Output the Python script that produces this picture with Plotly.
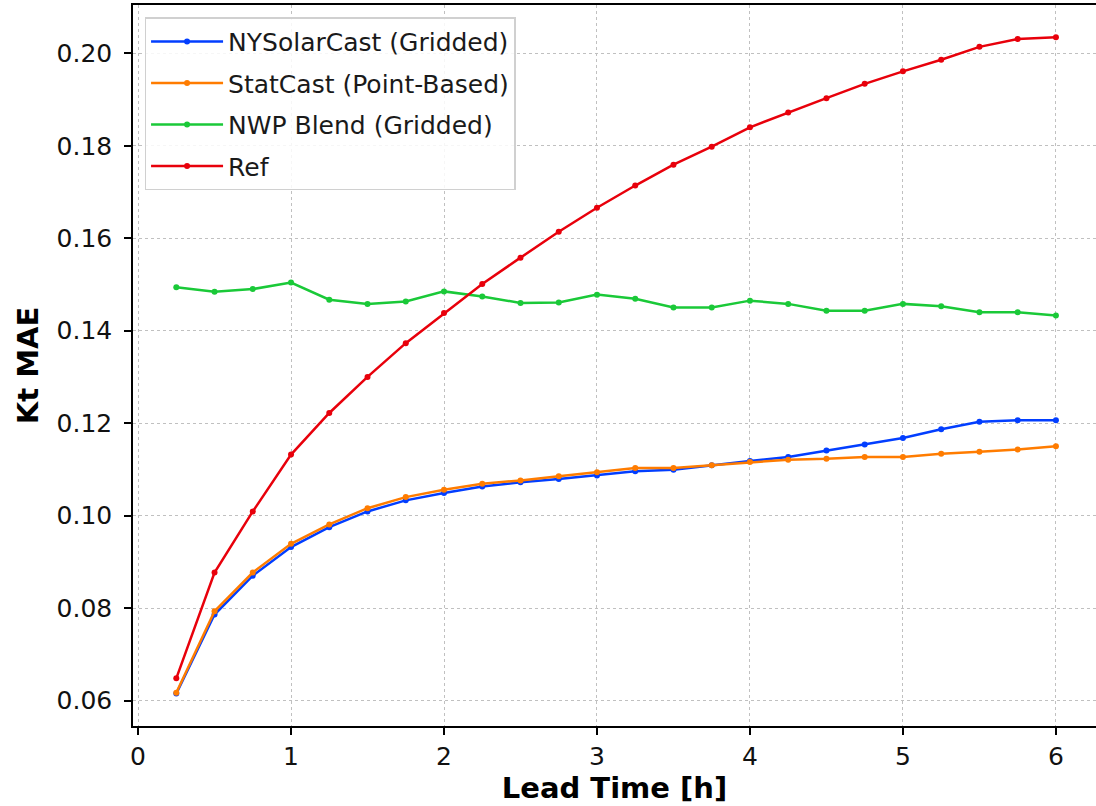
import plotly.graph_objects as go

lead_time = [0.25, 0.5, 0.75, 1.0, 1.25, 1.5, 1.75, 2.0, 2.25, 2.5, 2.75, 3.0,
             3.25, 3.5, 3.75, 4.0, 4.25, 4.5, 4.75, 5.0, 5.25, 5.5, 5.75, 6.0]

nysolarcast = [0.0615, 0.0786, 0.0870, 0.0932, 0.0975, 0.1009, 0.1033, 0.1049,
               0.1063, 0.1072, 0.1079, 0.1087, 0.1096, 0.1099, 0.1109, 0.1118,
               0.1127, 0.1141, 0.1154, 0.1168, 0.1187, 0.1203, 0.1206, 0.1206]

statcast = [0.0617, 0.0793, 0.0877, 0.0939, 0.0981, 0.1016, 0.1040, 0.1056,
            0.1069, 0.1076, 0.1085, 0.1094, 0.1103, 0.1103, 0.1109, 0.1116,
            0.1121, 0.1123, 0.1127, 0.1127, 0.1134, 0.1138, 0.1143, 0.1150]

nwp_blend = [0.1494, 0.1484, 0.1490, 0.1504, 0.1467, 0.1458, 0.1463, 0.1485,
             0.1474, 0.1460, 0.1461, 0.1478, 0.1469, 0.1450, 0.1450, 0.1465,
             0.1458, 0.1443, 0.1443, 0.1458, 0.1453, 0.1440, 0.1440, 0.1433]

ref = [0.0648, 0.0877, 0.1009, 0.1132, 0.1222, 0.1300, 0.1373, 0.1438,
       0.1501, 0.1558, 0.1614, 0.1666, 0.1714, 0.1759, 0.1798, 0.1840,
       0.1872, 0.1903, 0.1934, 0.1961, 0.1986, 0.2014, 0.2031, 0.2035]

series_names = ["NYSolarCast (Gridded)", "StatCast (Point-Based)", "NWP Blend (Gridded)", "Ref"]
series_values = [nysolarcast, statcast, nwp_blend, ref]
series_colors = ["#023eff", "#ff7c00", "#1ac938", "#e8000b"]

x_ticks = [0, 1, 2, 3, 4, 5, 6]
y_ticks = [0.06, 0.08, 0.10, 0.12, 0.14, 0.16, 0.18, 0.20]
y_tick_labels = ["0.06", "0.08", "0.10", "0.12", "0.14", "0.16", "0.18", "0.20"]

fig = go.Figure()
for i, (name, vals, col) in enumerate(zip(series_names, series_values, series_colors)):
    fig.add_trace(go.Scatter(
        x=lead_time, y=vals, mode="lines+markers", name=name,
        line=dict(color=col, width=2.5),
        marker=dict(color=col, size=6, symbol="circle"),
        legendgroup=f"g{i}",
    ))

axis_font = dict(family="DejaVu Sans", size=25, color="#111111")
title_font = dict(family="DejaVu Sans", size=29, color="black")

fig.update_layout(
    width=1096, height=806,
    margin=dict(l=133, r=0, t=5, b=80),
    paper_bgcolor="white", plot_bgcolor="white",
    showlegend=True,
    legend=dict(
        x=0.012, y=0.983, xanchor="left", yanchor="top",
        bgcolor="rgba(255,255,255,0.85)", bordercolor="#d0d0d0", borderwidth=1.5,
        font=dict(family="DejaVu Sans", size=25, color="#1a1a1a"),
        traceorder="grouped", tracegroupgap=6,
        itemwidth=72,
    ),
    xaxis=dict(
        range=[-0.033, 6.262], tickvals=x_ticks, ticktext=[str(t) for t in x_ticks],
        showline=True, linecolor="black", linewidth=1.5, mirror=True,
        ticks="outside", ticklen=7, tickwidth=1.5, tickcolor="black",
        showgrid=True, gridcolor="#c0c0c0", griddash="dot", gridwidth=1,
        zeroline=False, tickfont=axis_font,
        title=dict(text="<b>Lead Time [h]</b>", font=title_font, standoff=6),
    ),
    yaxis=dict(
        range=[0.05449, 0.21045], tickvals=y_ticks, ticktext=y_tick_labels,
        showline=True, linecolor="black", linewidth=1.5, mirror=False,
        ticks="outside", ticklen=7, tickwidth=1.5, tickcolor="black",
        ticklabelstandoff=7,
        showgrid=True, gridcolor="#c0c0c0", griddash="dot", gridwidth=1,
        zeroline=False, tickfont=axis_font,
        title=dict(text="<b>Kt MAE</b>", font=title_font, standoff=9),
    ),
)

fig.write_html("out.html")
